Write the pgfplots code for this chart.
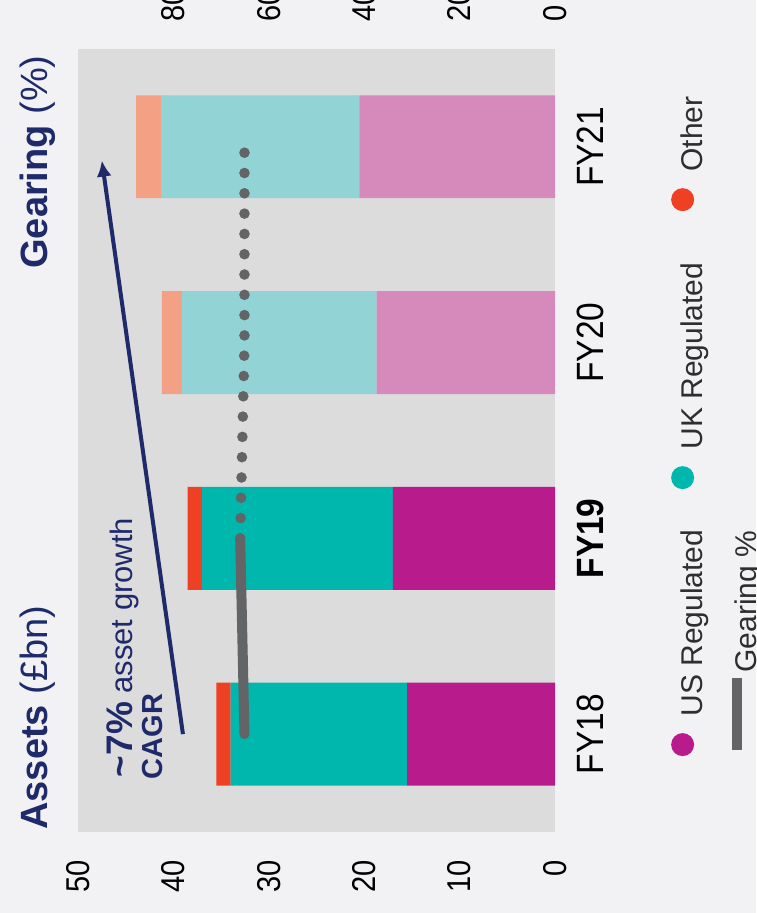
\documentclass[border=0pt]{standalone}
\usepackage{graphicx}
\usepackage{fontspec}
\setmainfont{Liberation Sans}
\newfontfamily\condfont[FakeStretch=0.88]{Liberation Sans}
\usepackage{pgfplots}
\pgfplotsset{compat=1.18}
\usetikzlibrary{arrows.meta}
\definecolor{bgc}{HTML}{F2F2F4}
\definecolor{plotbg}{HTML}{DCDCDC}
\definecolor{usc}{HTML}{B81C8C}
\definecolor{uslc}{HTML}{D68ABB}
\definecolor{ukc}{HTML}{00B7AE}
\definecolor{uklc}{HTML}{92D3D5}
\definecolor{othc}{HTML}{EE4023}
\definecolor{othlc}{HTML}{F4A085}
\definecolor{gearc}{HTML}{636466}
\definecolor{navy}{HTML}{1F2A6B}
\definecolor{legtext}{HTML}{2E2E2E}
\pgfplotsset{dotlegend/.style={legend image code/.code={\fill (0pt,5.4pt) circle (5.75pt);}}}
\begin{document}
\rotatebox{90}{%
\begin{tikzpicture}
\fill[bgc] (-40.5pt,-100.5pt) rectangle (416pt,277.5pt);
\begin{axis}[
  at={(0pt,0pt)}, anchor=south west,
  scale only axis, width=391.5pt, height=238.5pt,
  xmin=-0.5, xmax=3.5, ymin=0, ymax=50,
  ybar stacked, bar width=0.525,
  axis background/.style={fill=plotbg},
  axis line style={draw=none},
  major tick length=0pt,
  xtick={0,1,2,3}, xticklabels={FY18,\textbf{FY19},FY20,FY21},
  xticklabel style={anchor=base, inner sep=0pt, yshift=-24pt, font=\condfont\fontsize{19pt}{22pt}\selectfont, text=black},
  ytick={0,10,20,30,40,50},
  yticklabel style={anchor=east, inner sep=0pt, xshift=-14pt, font=\condfont\fontsize{16.5pt}{20pt}\selectfont, text=black},
  /pgf/number format/assume math mode=true,
  legend columns=3,
  legend cell align=left,
  legend entries={US Regulated,,UK Regulated\kern5.5pt\mbox{},,Other},
  legend style={at={(0.0964,-0.2426)}, anchor=north west, draw=none, fill=none, inner sep=0pt,
    font=\fontsize{15pt}{18pt}\selectfont, text=legtext, nodes={inner sep=0pt},
    /tikz/every odd column/.append style={column sep=8.25pt},
    /tikz/every even column/.append style={column sep=20.35pt}},
  clip=false,
]
\addplot[fill=usc, draw=none, dotlegend] coordinates {(0,15.5) (1,17.0) (2,0) (3,0)};
\addplot[fill=uslc, draw=none, dotlegend] coordinates {(0,0) (1,0) (2,18.7) (3,20.5)};
\addplot[fill=ukc, draw=none, dotlegend] coordinates {(0,18.5) (1,20.0) (2,0) (3,0)};
\addplot[fill=uklc, draw=none, dotlegend] coordinates {(0,0) (1,0) (2,20.4) (3,20.8)};
\addplot[fill=othc, draw=none, dotlegend] coordinates {(0,1.5) (1,1.5) (2,0) (3,0)};
\addplot[fill=othlc, draw=none, dotlegend] coordinates {(0,0) (1,0) (2,2.1) (3,2.6)};
\draw[navy, line width=2pt, -{Latex[length=8pt,width=7.5pt]}] (axis cs:0.0,39.0) -- (axis cs:2.93,47.5);
\node[anchor=base west, inner sep=0pt, text=navy] at (axis cs:-0.222,44.3)
  {\fontsize{18.5pt}{20pt}\selectfont\textbf{\textasciitilde 7\%}\fontsize{15.5pt}{18pt}\selectfont\ asset growth};
\node[anchor=base west, inner sep=0pt, text=navy, font=\bfseries\fontsize{14.5pt}{17pt}\selectfont] at (axis cs:-0.232,41.1) {CAGR};
\end{axis}
\begin{axis}[
  at={(0pt,0pt)}, anchor=south west,
  scale only axis, width=391.5pt, height=238.5pt,
  xmin=-0.5, xmax=3.5, ymin=0, ymax=100,
  axis y line*=right, hide x axis,
  axis line style={draw=none},
  major tick length=0pt,
  ytick={0,20,40,60,80},
  yticklabel style={anchor=west, inner sep=0pt, xshift=13.5pt, font=\condfont\fontsize{16.5pt}{20pt}\selectfont, text=black},
  /pgf/number format/assume math mode=true,
  legend cell align=left,
  legend style={at={(0.0983,-0.3694)}, anchor=north west, draw=none, fill=none, inner sep=0pt,
    font=\fontsize{15pt}{18pt}\selectfont, text=legtext, nodes={inner sep=0pt},
    /tikz/every odd column/.append style={column sep=0pt}},
  clip=false,
]
\addplot[gearc, line width=5pt, line cap=round, mark=none,
  legend image code/.code={\draw[line width=5pt, line cap=butt, solid] (0pt,5.4pt) -- (36pt,5.4pt);}]
  coordinates {(0,65.1) (1,66.0)};
\addlegendentry{Gearing \%}
\addplot[gearc, line width=5.3pt, line cap=round, mark=none, dash pattern=on 0pt off 10.15pt, forget plot]
  coordinates {(1,66.0) (2,65.1) (3,65.1)};
\end{axis}
\node[anchor=base west, inner sep=0pt, text=navy, font=\fontsize{19pt}{22pt}\selectfont] at (1pt,253.5pt) {\textbf{Assets} (£bn)};
\node[anchor=base east, inner sep=0pt, text=navy, font=\fontsize{19pt}{22pt}\selectfont] at (388.5pt,253.5pt) {\textbf{Gearing} (\%)};
\pgfresetboundingbox
\useasboundingbox (-40.5pt,-100.5pt) rectangle (416pt,277.5pt);
\end{tikzpicture}}
\end{document}
